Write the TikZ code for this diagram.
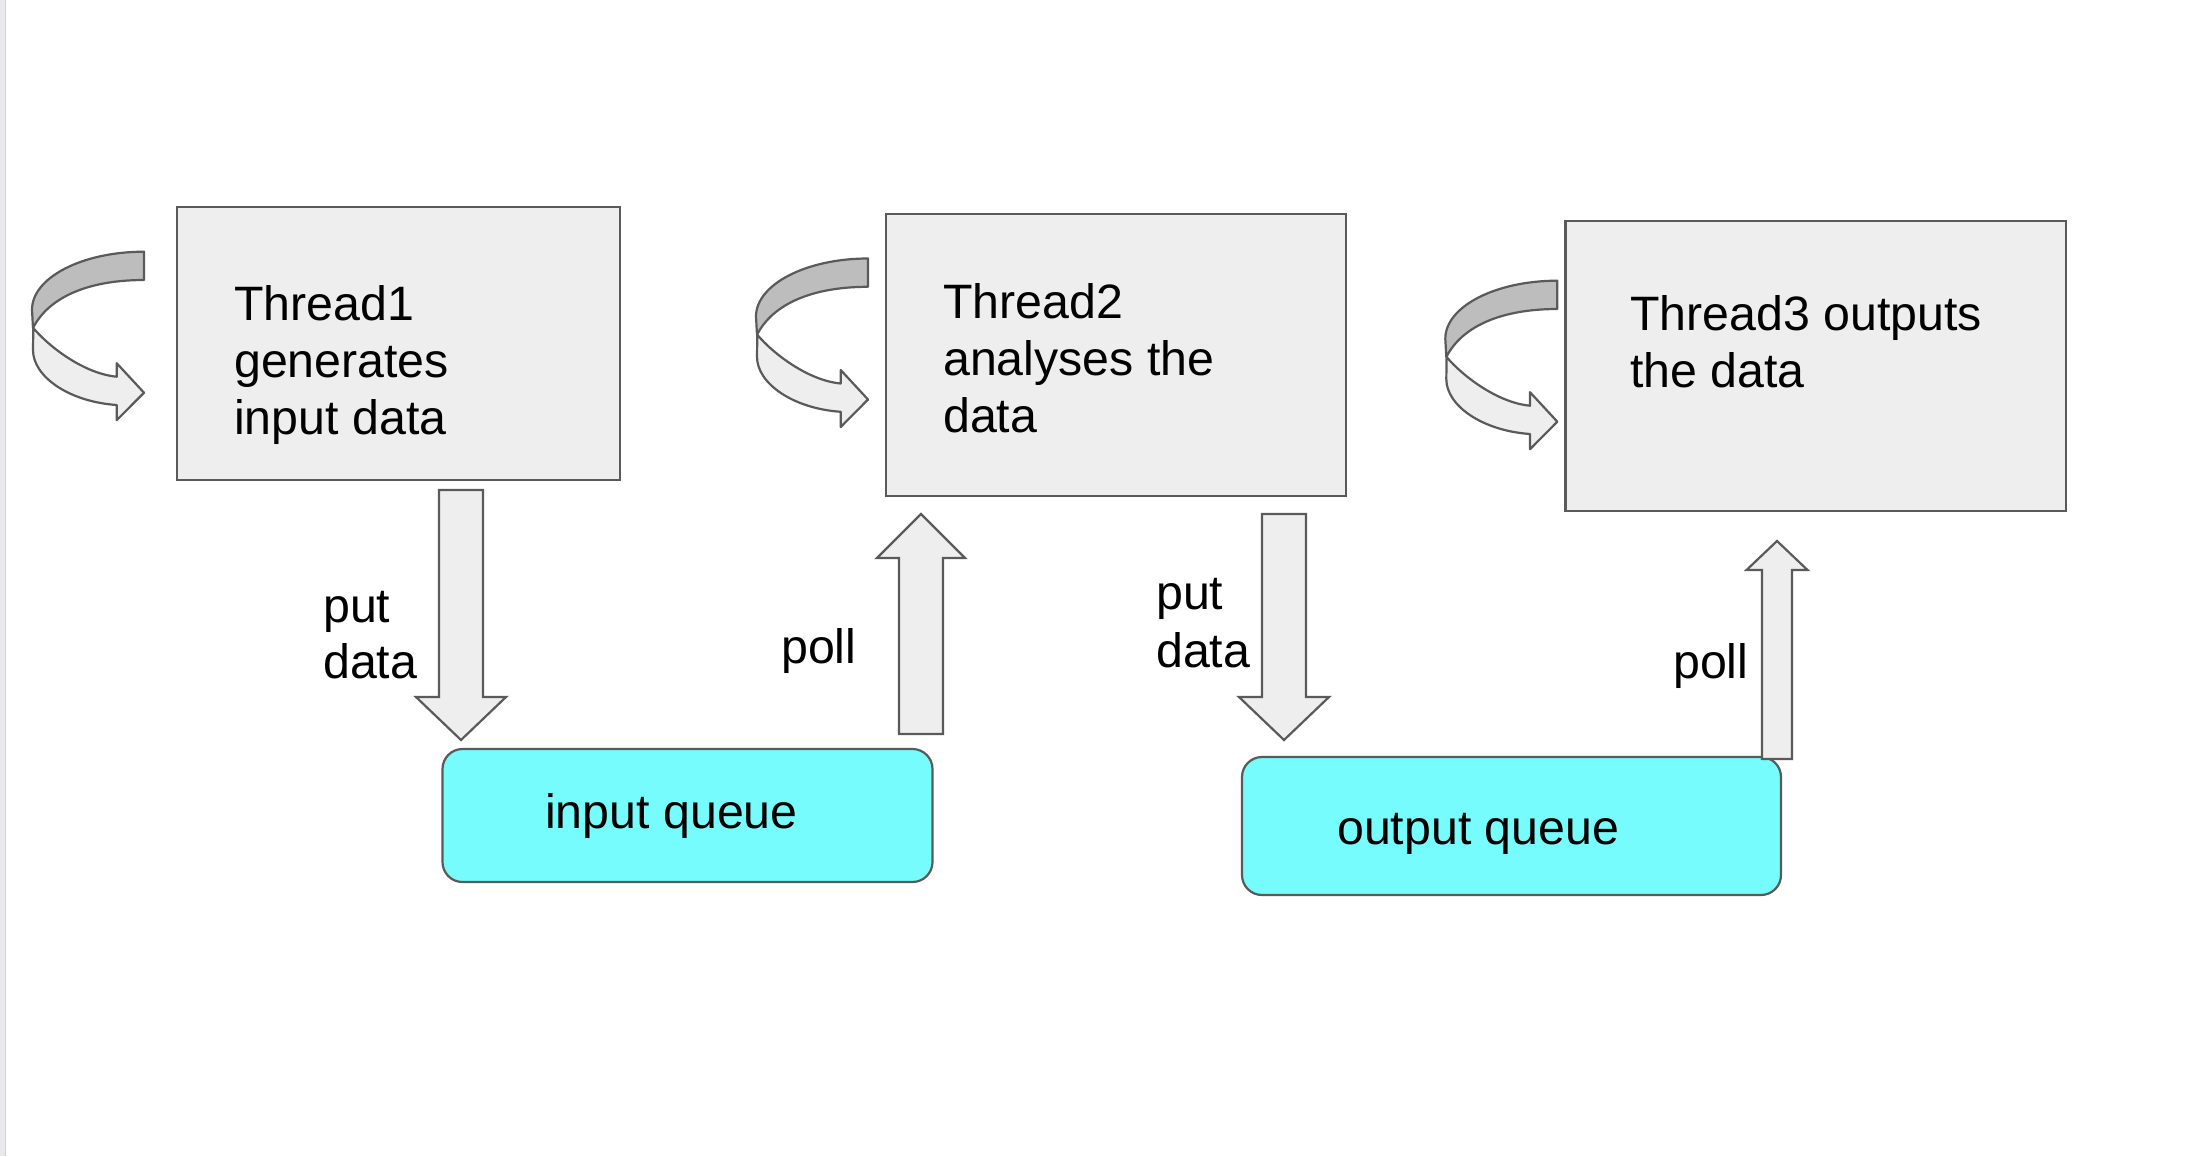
\documentclass[tikz,border=0pt]{standalone}
\usepackage{fontspec}
\setmainfont{Liberation Sans}
\definecolor{edge}{HTML}{5A5A5A}
\definecolor{boxfill}{HTML}{EEEEEE}
\definecolor{bandfill}{HTML}{BDBDBD}
\definecolor{queuefill}{HTML}{76FCFC}
\definecolor{stripfill}{HTML}{E9E9EB}
\definecolor{stripedge}{HTML}{D2D2D2}
\begin{document}
\begin{tikzpicture}[x=1pt,y=-1pt,
  threadbox/.style={draw=edge, fill=boxfill, line width=2.2pt, rectangle, inner sep=0pt},
  queuebox/.style={draw=edge, fill=queuefill, line width=2.2pt, rectangle, rounded corners=20pt, inner sep=0pt},
  blockarrow/.style={draw=edge, fill=boxfill, line width=2.2pt, line join=miter},
  txt/.style={anchor=base west, inner sep=0pt, font=\fontsize{48.3}{58}\selectfont},
  looparr/.pic={
    \draw[draw=edge, fill=bandfill, line width=2.2pt, line join=round]
      (0,0) .. controls (-61.9,0) and (-112,26) .. (-112,58) -- (-111,76.3)
      .. controls (-95,45) and (-55,28.3) .. (0,28.3) -- cycle;
    \draw[draw=edge, fill=boxfill, line width=2.2pt, line join=round]
      (-110.7,76.3) .. controls (-95,95) and (-60,122) .. (-27.3,125)
      -- (-27.3,111.5) -- (0,141) -- (-27.3,168.5) -- (-27.3,153.3)
      .. controls (-75,150) and (-111,125) .. (-111,98.3) -- cycle;
  }]
\useasboundingbox (0,0) rectangle (2210,1156);
\fill[white] (0,0) rectangle (2210,1156);
% left page edge
\fill[stripfill] (0,0) rectangle (5,1156);
\draw[stripedge, line width=1.5pt] (5.5,0) -- (5.5,1156);

% thread boxes
\node[threadbox, minimum width=443pt, minimum height=273pt] (t1) at (398.5,343.5) {};
\node[threadbox, minimum width=460pt, minimum height=282pt] (t2) at (1116,355) {};
\node[threadbox, minimum width=500.5pt, minimum height=290pt] (t3) at (1815.8,366) {};

% queues
\node[queuebox, minimum width=490pt, minimum height=133pt] (iq) at (687.5,815.5) {};
\node[queuebox, minimum width=539pt, minimum height=138pt] (oq) at (1511.5,826) {};

% loop arrows
\pic at (144,251.7) {looparr};
\pic at (868,258.5) {looparr};
\pic at (1557.3,280.7) {looparr};

% block arrows
\draw[blockarrow] (439,490) -- (483,490) -- (483,697) -- (506,697) -- (461,740)
  -- (416,697) -- (439,697) -- cycle;
\draw[blockarrow] (899,734) -- (943,734) -- (943,558) -- (965,558) -- (921,514)
  -- (877,558) -- (899,558) -- cycle;
\draw[blockarrow] (1262,514) -- (1306,514) -- (1306,697) -- (1329,697) -- (1284,740)
  -- (1239,697) -- (1262,697) -- cycle;
\draw[blockarrow] (1762,759) -- (1792,759) -- (1792,570) -- (1807.5,570) -- (1777,541)
  -- (1746.5,570) -- (1762,570) -- cycle;

% texts
\node[txt] (t1a) at (234,320) {Thread1};
\node[txt] (t1b) at (234,377) {generates};
\node[txt] (t1c) at (234,434) {input data};
\node[txt] (t2a) at (943,318) {Thread2};
\node[txt] (t2b) at (943,375) {analyses the};
\node[txt] (t2c) at (943,432) {data};
\node[txt] (t3a) at (1630,330) {Thread3 outputs};
\node[txt] (t3b) at (1630,387) {the data};
\node[txt] (p1a) at (323,622) {put};
\node[txt] (p1b) at (323,678) {data};
\node[txt] (q1) at (781,663) {poll};
\node[txt] (p2a) at (1156,609) {put};
\node[txt] (p2b) at (1156,667) {data};
\node[txt] (q2) at (1673,678) {poll};
\node[txt] (iqt) at (545,828) {input queue};
\node[txt] (oqt) at (1337,844) {output queue};
\end{tikzpicture}
\end{document}
